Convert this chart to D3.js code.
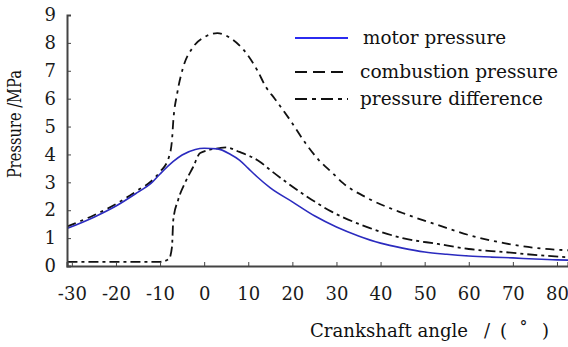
<!DOCTYPE html>
<meta charset="utf-8">
<style>
body { margin: 0; background: #fff; }
svg { display: block; }
.axis path, .axis line { stroke: #444; }
.axis text { font-family: "DejaVu Serif", serif; font-size: 18px; fill: #1a1a1a; }
.lab { font-family: "DejaVu Serif", serif; fill: #111; }
.curve { fill: none; }
</style>
<svg width="568" height="347"></svg>
<script src="https://d3js.org/d3.v7.min.js"></script>
<script>

var xTicks = [-30, -20, -10, 0, 10, 20, 30, 40, 50, 60, 70, 80];
var yTicks = [0, 1, 2, 3, 4, 5, 6, 7, 8, 9];

// crank angle (deg), pressure (MPa)
var motorAngle = [-31, -25, -20, -15, -12, -10, -7, -5, -2, 0, 3, 6, 8, 10, 12, 15, 20, 25, 30, 35, 40, 45, 50, 55, 60, 65, 70, 75, 80, 83];
var motorP     = [1.35, 1.75, 2.15, 2.65, 2.97, 3.3, 3.75, 3.98, 4.18, 4.22, 4.2, 4.0, 3.8, 3.5, 3.2, 2.8, 2.3, 1.8, 1.4, 1.08, 0.82, 0.64, 0.5, 0.42, 0.36, 0.32, 0.29, 0.25, 0.22, 0.21];

var combAngle = [-31, -25, -20, -15, -12, -10, -8, -7.3, -7, -6.1, -4.8, -2.5, 0, 3, 6, 9, 12, 14, 16, 19.5, 23, 26, 29, 31.5, 37, 45, 53, 60, 68, 75, 83];
var combP     = [1.42, 1.82, 2.22, 2.72, 3.04, 3.38, 3.9, 4.5, 5.2, 6.2, 7.1, 7.85, 8.2, 8.35, 8.17, 7.74, 7.03, 6.42, 6.0, 5.23, 4.4, 3.8, 3.35, 2.97, 2.44, 1.9, 1.47, 1.11, 0.82, 0.65, 0.56];

var diffAngle = [-31, -20, -10, -8, -7.3, -7, -5.9, -4.3, -2.5, -0.9, 3.6, 5, 8, 12.7, 15, 21.8, 29, 37.6, 45, 53, 60, 68, 75.5, 83];
var diffP     = [0.15, 0.15, 0.15, 0.25, 0.68, 1.65, 2.37, 3.0, 3.55, 4.05, 4.23, 4.25, 4.09, 3.73, 3.44, 2.65, 1.94, 1.36, 1.0, 0.79, 0.61, 0.5, 0.39, 0.31];

var legendNames = ["motor pressure", "combustion pressure", "pressure difference"];

var svg = d3.select("svg");

var x = d3.scaleLinear().domain([-31.1, 82.5]).range([67, 568]);
var y = d3.scaleLinear().domain([0, 9]).range([266, 15]);

var line = d3.line()
    .x(function(d) { return x(d[0]); })
    .y(function(d) { return y(d[1]); })
    .curve(d3.curveMonotoneX);

var series = [
  {pts: d3.zip(diffAngle, diffP), color: "#111", width: 1.8, dash: "10,4,3,4"},
  {pts: d3.zip(combAngle, combP), color: "#111", width: 1.8, dash: "9,5,3,5"},
  {pts: d3.zip(motorAngle, motorP), color: "#2b2bbf", width: 1.6, dash: null}
];

svg.selectAll(".curve")
  .data(series)
  .enter().append("path")
    .attr("class", "curve")
    .attr("d", function(d) { return line(d.pts); })
    .attr("stroke", function(d) { return d.color; })
    .attr("stroke-width", function(d) { return d.width; })
    .attr("stroke-dasharray", function(d) { return d.dash; });

var xAxis = svg.append("g")
    .attr("class", "axis")
    .attr("transform", "translate(0,266)")
    .call(d3.axisTop(x).tickValues(xTicks).tickSize(4).tickFormat(function(d) { return String(d); }));
xAxis.select(".domain").attr("stroke-width", 2);
xAxis.selectAll("text").attr("y", 34).attr("dy", 0).attr("transform", null);

var yAxis = svg.append("g")
    .attr("class", "axis")
    .attr("transform", "translate(67,0)")
    .call(d3.axisRight(y).tickValues(yTicks).tickSize(4));
yAxis.select(".domain").attr("stroke-width", 2);
yAxis.selectAll("text").attr("x", -11).attr("text-anchor", "end");

svg.append("text")
    .attr("class", "lab")
    .attr("transform", "translate(21,124) rotate(-90)")
    .attr("text-anchor", "middle")
    .style("font-size", "18px")
    .attr("textLength", 108)
    .attr("lengthAdjust", "spacingAndGlyphs")
    .text("Pressure /MPa");

var xl = svg.append("text")
    .attr("class", "lab")
    .attr("y", 337)
    .style("font-size", "18px");
xl.append("tspan").attr("x", 310).attr("textLength", 158).attr("lengthAdjust", "spacingAndGlyphs").text("Crankshaft angle");
xl.append("tspan").attr("x", 484).text("/");
xl.append("tspan").attr("x", 500).text("(");
xl.append("tspan").attr("x", 519).text("˚");
xl.append("tspan").attr("x", 542).text(")");

// legend
var legY = [38, 72, 99];
var legDash = [null, "12,6", "12,5,4,5"];
var legColor = ["#2b2bf0", "#111", "#111"];
var legLen = [143, 198, 183];
var leg = svg.selectAll(".leg")
  .data(legendNames)
  .enter().append("g")
    .attr("class", "leg");
leg.append("line")
    .attr("x1", 295).attr("x2", 348)
    .attr("y1", function(d, i) { return legY[i]; })
    .attr("y2", function(d, i) { return legY[i]; })
    .attr("stroke", function(d, i) { return legColor[i]; })
    .attr("stroke-width", 2)
    .attr("stroke-dasharray", function(d, i) { return legDash[i]; });
leg.append("text")
    .attr("class", "lab")
    .attr("x", function(d, i) { return i == 0 ? 363 : 360; })
    .attr("y", function(d, i) { return legY[i] + 6; })
    .style("font-size", "18px")
    .attr("textLength", function(d, i) { return legLen[i]; })
    .attr("lengthAdjust", "spacingAndGlyphs")
    .text(function(d) { return d; });

</script>
